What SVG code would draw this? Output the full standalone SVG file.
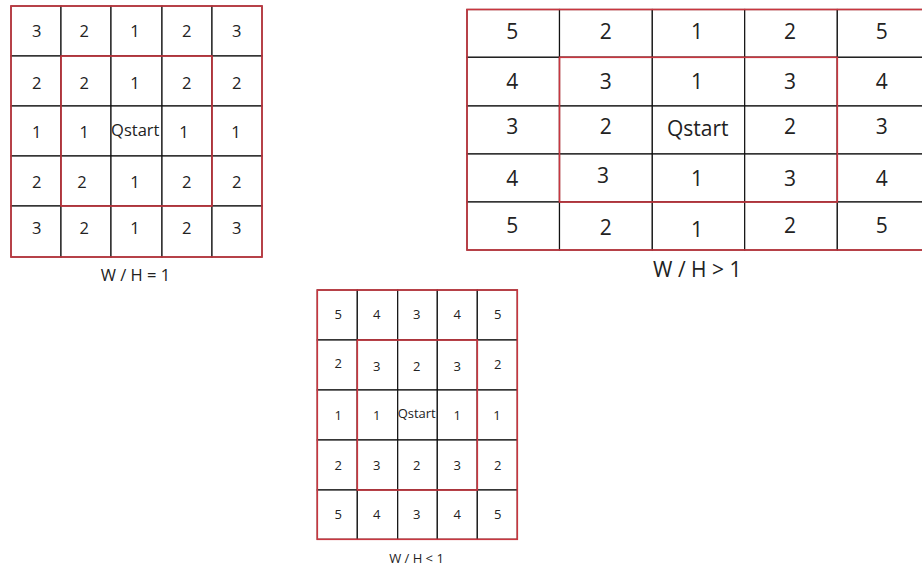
<svg xmlns="http://www.w3.org/2000/svg" width="922" height="572" viewBox="0 0 922 572">
<style>
.c{fill:#fff;stroke:#111;stroke-width:1.2}
.r{fill:none;stroke:#c9363f;stroke-width:1.6}
text{font-family:"Open Sans","Liberation Sans",sans-serif;fill:#222;text-anchor:middle}
.t1{font-size:16.5px}
.t2{font-size:21px}
.t3{font-size:13px}
.l1{font-size:16.5px}
.l2{font-size:21px}
.l3{font-size:13px}
</style>
<rect width="922" height="572" fill="#fff"/>

<g id="grid-eq">
  <g id="grid-eq-cells">
    <rect class="c" x="11" y="6" width="50" height="50"/><rect class="c" x="61" y="6" width="50" height="50"/><rect class="c" x="111" y="6" width="51" height="50"/><rect class="c" x="162" y="6" width="50" height="50"/><rect class="c" x="212" y="6" width="50" height="50"/>
    <rect class="c" x="11" y="56" width="50" height="50"/><rect class="c" x="61" y="56" width="50" height="50"/><rect class="c" x="111" y="56" width="51" height="50"/><rect class="c" x="162" y="56" width="50" height="50"/><rect class="c" x="212" y="56" width="50" height="50"/>
    <rect class="c" x="11" y="106" width="50" height="50"/><rect class="c" x="61" y="106" width="50" height="50"/><rect class="c" x="111" y="106" width="51" height="50"/><rect class="c" x="162" y="106" width="50" height="50"/><rect class="c" x="212" y="106" width="50" height="50"/>
    <rect class="c" x="11" y="156" width="50" height="50"/><rect class="c" x="61" y="156" width="50" height="50"/><rect class="c" x="111" y="156" width="51" height="50"/><rect class="c" x="162" y="156" width="50" height="50"/><rect class="c" x="212" y="156" width="50" height="50"/>
    <rect class="c" x="11" y="206" width="50" height="51"/><rect class="c" x="61" y="206" width="50" height="51"/><rect class="c" x="111" y="206" width="51" height="51"/><rect class="c" x="162" y="206" width="50" height="51"/><rect class="c" x="212" y="206" width="50" height="51"/>
  </g>
  <rect class="r" x="11" y="6" width="251" height="251"/>
  <rect class="r" x="61" y="56" width="151" height="150"/>
  <g class="t1">
    <text x="36.7" y="37">3</text><text x="84.3" y="37">2</text><text x="135" y="37">1</text><text x="186.7" y="37">2</text><text x="236.7" y="37">3</text>
    <text x="36.7" y="88.6">2</text><text x="84.3" y="88.6">2</text><text x="135" y="88.6">1</text><text x="186.7" y="88.6">2</text><text x="236.7" y="88.6">2</text>
    <text x="36.7" y="137.6">1</text><text x="84.3" y="137.6">1</text><text x="135.3" y="135.9">Qstart</text><text x="184" y="137.6">1</text><text x="236" y="137.6">1</text>
    <text x="36.7" y="187.6">2</text><text x="82" y="187.6">2</text><text x="135" y="187.6">1</text><text x="186.7" y="187.6">2</text><text x="236.7" y="187.6">2</text>
    <text x="36.7" y="234.2">3</text><text x="84.3" y="234.2">2</text><text x="135" y="234.2">1</text><text x="186.7" y="234.2">2</text><text x="236.7" y="234.2">3</text>
  </g>
  <text class="l1" x="135.5" y="281">W / H = 1</text>
</g>

<g id="grid-gt">
  <g id="grid-gt-cells">
    <rect class="c" x="467" y="9.5" width="92.5" height="47.8"/><rect class="c" x="559.5" y="9.5" width="92.8" height="47.8"/><rect class="c" x="652.3" y="9.5" width="92.4" height="47.8"/><rect class="c" x="744.7" y="9.5" width="92.6" height="47.8"/><rect class="c" x="837.3" y="9.5" width="92.7" height="47.8"/>
    <rect class="c" x="467" y="57.3" width="92.5" height="48.7"/><rect class="c" x="559.5" y="57.3" width="92.8" height="48.7"/><rect class="c" x="652.3" y="57.3" width="92.4" height="48.7"/><rect class="c" x="744.7" y="57.3" width="92.6" height="48.7"/><rect class="c" x="837.3" y="57.3" width="92.7" height="48.7"/>
    <rect class="c" x="467" y="106" width="92.5" height="48"/><rect class="c" x="559.5" y="106" width="92.8" height="48"/><rect class="c" x="652.3" y="106" width="92.4" height="48"/><rect class="c" x="744.7" y="106" width="92.6" height="48"/><rect class="c" x="837.3" y="106" width="92.7" height="48"/>
    <rect class="c" x="467" y="154" width="92.5" height="48"/><rect class="c" x="559.5" y="154" width="92.8" height="48"/><rect class="c" x="652.3" y="154" width="92.4" height="48"/><rect class="c" x="744.7" y="154" width="92.6" height="48"/><rect class="c" x="837.3" y="154" width="92.7" height="48"/>
    <rect class="c" x="467" y="202" width="92.5" height="48"/><rect class="c" x="559.5" y="202" width="92.8" height="48"/><rect class="c" x="652.3" y="202" width="92.4" height="48"/><rect class="c" x="744.7" y="202" width="92.6" height="48"/><rect class="c" x="837.3" y="202" width="92.7" height="48"/>
  </g>
  <rect class="r" x="467" y="9.5" width="463" height="240.5"/>
  <rect class="r" x="559.5" y="57.3" width="277.8" height="144.7"/>
  <g class="t2">
    <text x="512.3" y="38.5">5</text><text x="605.7" y="38.5">2</text><text x="697" y="38.5">1</text><text x="790" y="38.5">2</text><text x="881.7" y="38.5">5</text>
    <text x="512.3" y="88.5">4</text><text x="605.7" y="88.5">3</text><text x="697" y="88.5">1</text><text x="790" y="88.5">3</text><text x="881.7" y="88.5">4</text>
    <text x="512.3" y="133.5">3</text><text x="605.7" y="133.5">2</text><text x="697.7" y="135.8">Qstart</text><text x="790" y="133.5">2</text><text x="881.7" y="133.5">3</text>
    <text x="512.3" y="185.8">4</text><text x="603" y="183.2">3</text><text x="697" y="185.8">1</text><text x="790" y="185.8">3</text><text x="881.7" y="185.8">4</text>
    <text x="512.3" y="232.5">5</text><text x="605.7" y="235.2">2</text><text x="697" y="236.8">1</text><text x="790" y="232.5">2</text><text x="881.7" y="232.5">5</text>
  </g>
  <text class="l2" x="697.3" y="277">W / H &gt; 1</text>
</g>

<g id="grid-lt">
  <g id="grid-lt-cells">
    <rect class="c" x="317.3" y="290" width="40" height="50"/><rect class="c" x="357.3" y="290" width="40.4" height="50"/><rect class="c" x="397.7" y="290" width="39.6" height="50"/><rect class="c" x="437.3" y="290" width="40" height="50"/><rect class="c" x="477.3" y="290" width="40" height="50"/>
    <rect class="c" x="317.3" y="340" width="40" height="50"/><rect class="c" x="357.3" y="340" width="40.4" height="50"/><rect class="c" x="397.7" y="340" width="39.6" height="50"/><rect class="c" x="437.3" y="340" width="40" height="50"/><rect class="c" x="477.3" y="340" width="40" height="50"/>
    <rect class="c" x="317.3" y="390" width="40" height="50"/><rect class="c" x="357.3" y="390" width="40.4" height="50"/><rect class="c" x="397.7" y="390" width="39.6" height="50"/><rect class="c" x="437.3" y="390" width="40" height="50"/><rect class="c" x="477.3" y="390" width="40" height="50"/>
    <rect class="c" x="317.3" y="440" width="40" height="50"/><rect class="c" x="357.3" y="440" width="40.4" height="50"/><rect class="c" x="397.7" y="440" width="39.6" height="50"/><rect class="c" x="437.3" y="440" width="40" height="50"/><rect class="c" x="477.3" y="440" width="40" height="50"/>
    <rect class="c" x="317.3" y="490" width="40" height="49.3"/><rect class="c" x="357.3" y="490" width="40.4" height="49.3"/><rect class="c" x="397.7" y="490" width="39.6" height="49.3"/><rect class="c" x="437.3" y="490" width="40" height="49.3"/><rect class="c" x="477.3" y="490" width="40" height="49.3"/>
  </g>
  <rect class="r" x="317.3" y="290" width="200" height="249.3"/>
  <rect class="r" x="357.3" y="340" width="120" height="150"/>
  <g class="t3">
    <text x="338.3" y="318.6">5</text><text x="376.7" y="318.6">4</text><text x="416.7" y="318.6">3</text><text x="457.3" y="318.6">4</text><text x="497.7" y="318.6">5</text>
    <text x="338.3" y="367.9">2</text><text x="376.7" y="370.6">3</text><text x="416.7" y="370.6">2</text><text x="457.3" y="370.6">3</text><text x="497.7" y="368.6">2</text>
    <text x="338.3" y="419.6">1</text><text x="376.7" y="419.6">1</text><text x="416.7" y="417.9">Qstart</text><text x="457.3" y="419.6">1</text><text x="497" y="419.6">1</text>
    <text x="338.3" y="469.6">2</text><text x="376.7" y="469.6">3</text><text x="416.7" y="469.6">2</text><text x="457.3" y="469.6">3</text><text x="497.7" y="469.6">2</text>
    <text x="338.3" y="518.6">5</text><text x="376.7" y="518.6">4</text><text x="416.7" y="518.6">3</text><text x="457.3" y="518.6">4</text><text x="497.7" y="518.6">5</text>
  </g>
  <text class="l3" x="416.5" y="563">W / H &lt; 1</text>
</g>
</svg>
